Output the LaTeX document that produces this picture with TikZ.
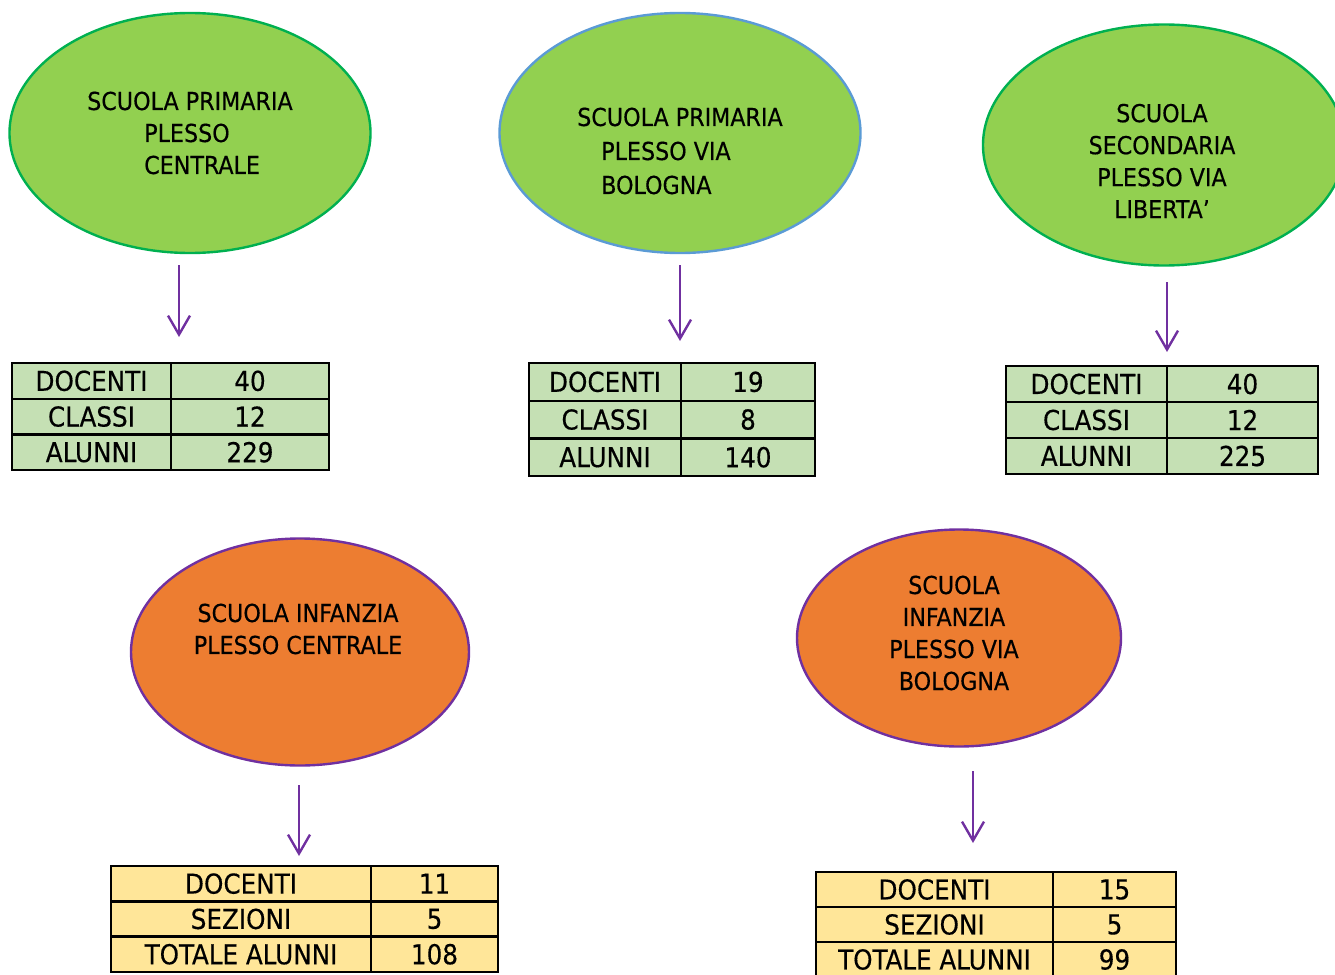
\documentclass[tikz,border=0pt]{standalone}
\usepackage{fontspec}
\setmainfont[FakeBold=0.4]{DejaVu Sans Condensed}
\usetikzlibrary{shapes.geometric, arrows.meta, positioning}
\definecolor{cVerde}{RGB}{146,208,80}
\definecolor{cVerdeBordo}{RGB}{0,176,80}
\definecolor{cBlu}{RGB}{91,155,213}
\definecolor{cArancio}{RGB}{237,125,49}
\definecolor{cViola}{RGB}{112,48,160}
\definecolor{cVerdeTab}{RGB}{197,224,180}
\definecolor{cGiallo}{RGB}{255,230,153}
\tikzset{
	plesso/.style   ={ellipse, line width=2.4pt, inner sep=0pt},
	primaria/.style ={plesso, draw=cVerdeBordo, fill=cVerde},
	infanzia/.style ={plesso, draw=cViola, fill=cArancio},
	etichetta/.style={inner sep=0pt, align=center, font=\fontsize{24.7}{32}\selectfont},
	cella/.style    ={rectangle, draw=black, line width=2.4pt, inner sep=0pt, outer sep=0pt, anchor=north west, font=\fontsize{27.4}{30}\selectfont},
	freccia/.style  ={-{Straight Barb[length=19pt, width=22pt]}, line width=2.4pt, draw=cViola},
}
\begin{document}
\begin{tikzpicture}[x=1pt, y=-1pt]
	\useasboundingbox (0,0) rectangle (1335,974);
	% scuole primarie e secondaria
	\node[primaria, minimum width=361pt, minimum height=240pt] (prim1) at (190,133) {};
	\node[etichetta, align=left] (prim1t) at (190,133) {SCUOLA PRIMARIA\\\hspace*{57pt}PLESSO\\\hspace*{57pt}CENTRALE};
	\node[primaria, draw=cBlu, minimum width=361pt, minimum height=240pt] (prim2) at (680,133) {};
	\node[etichetta, align=left, font=\fontsize{24.7}{34}\selectfont] (prim2t) at (680,151) {SCUOLA PRIMARIA\\\hspace*{24pt}PLESSO VIA\\\hspace*{24pt}BOLOGNA};
	\node[primaria, minimum width=362pt, minimum height=241pt] (sec) at (1164,145) {};
	\node[etichetta] (sect) at (1162,161) {SCUOLA\\SECONDARIA\\PLESSO VIA\\LIBERTA’};
	% scuole infanzia
	\node[infanzia, minimum width=338pt, minimum height=227pt] (inf1) at (300,652) {};
	\node[etichetta] (inf1t) at (298,629) {SCUOLA INFANZIA\\PLESSO CENTRALE};
	\node[infanzia, minimum width=324pt, minimum height=217pt] (inf2) at (959,638) {};
	\node[etichetta] (inf2t) at (954,633) {SCUOLA\\INFANZIA\\PLESSO VIA\\BOLOGNA};
	% tabelle
	\foreach \voce/\num [count=\i] in {DOCENTI/40, CLASSI/12, ALUNNI/229} {
		\node[cella, fill=cVerdeTab, minimum width=159pt, minimum height=35.7pt] (pa-\i) at (12,{363+35.7*(\i-1)}) {\voce};
		\node[cella, fill=cVerdeTab, minimum width=158pt, minimum height=35.7pt, right=0pt of pa-\i] (pan-\i) {\num};
	}
	\foreach \voce/\num [count=\i] in {DOCENTI/19, CLASSI/8, ALUNNI/140} {
		\node[cella, fill=cVerdeTab, minimum width=152pt, minimum height=37.7pt] (pb-\i) at (529,{363+37.7*(\i-1)}) {\voce};
		\node[cella, fill=cVerdeTab, minimum width=134pt, minimum height=37.7pt, right=0pt of pb-\i] (pbn-\i) {\num};
	}
	\foreach \voce/\num [count=\i] in {DOCENTI/40, CLASSI/12, ALUNNI/225} {
		\node[cella, fill=cVerdeTab, minimum width=161pt, minimum height=36pt] (sc-\i) at (1006,{366+36*(\i-1)}) {\voce};
		\node[cella, fill=cVerdeTab, minimum width=151pt, minimum height=36pt, right=0pt of sc-\i] (scn-\i) {\num};
	}
	\foreach \voce/\num [count=\i] in {DOCENTI/11, SEZIONI/5, TOTALE ALUNNI/108} {
		\node[cella, fill=cGiallo, minimum width=260pt, minimum height=35.3pt] (ia-\i) at (111,{866+35.3*(\i-1)}) {\voce};
		\node[cella, fill=cGiallo, minimum width=127pt, minimum height=35.3pt, right=0pt of ia-\i] (ian-\i) {\num};
	}
	\foreach \voce/\num [count=\i] in {DOCENTI/15, SEZIONI/5, TOTALE ALUNNI/99} {
		\node[cella, fill=cGiallo, minimum width=237pt, minimum height=35pt] (ib-\i) at (816,{872+35*(\i-1)}) {\voce};
		\node[cella, fill=cGiallo, minimum width=123pt, minimum height=35pt, right=0pt of ib-\i] (ibn-\i) {\num};
	}
	% frecce
	\coordinate (f1a) at (179,265); \coordinate (f1b) at (179,337);
	\coordinate (f2a) at (680,265); \coordinate (f2b) at (680,341);
	\coordinate (f3a) at (1167,282); \coordinate (f3b) at (1167,352);
	\coordinate (f4a) at (299,785); \coordinate (f4b) at (299,856);
	\coordinate (f5a) at (973,771); \coordinate (f5b) at (973,843);
	\draw[freccia] (f1a) -- (f1b); \draw[freccia] (f2a) -- (f2b); \draw[freccia] (f3a) -- (f3b);
	\draw[freccia] (f4a) -- (f4b); \draw[freccia] (f5a) -- (f5b);
\end{tikzpicture}
\end{document}
